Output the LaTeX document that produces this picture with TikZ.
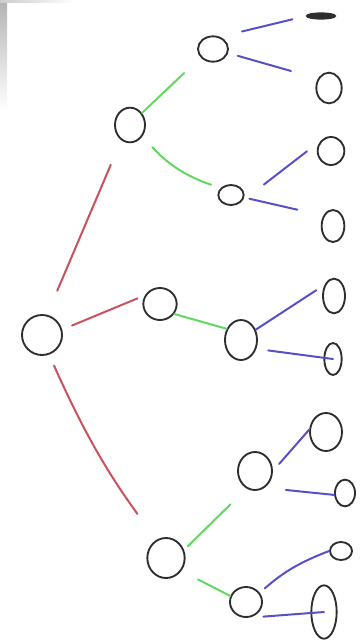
\documentclass[tikz,border=0pt]{standalone}
\usepackage{xcolor}
\usepackage{tikz}
\usetikzlibrary{shapes.geometric}
\definecolor{ink}{HTML}{2E2E2E}
\definecolor{redln}{HTML}{C9525E}
\definecolor{greenln}{HTML}{62D862}
\definecolor{blueln}{HTML}{5750C6}
\tikzset{
  knot/.style={ellipse,draw=ink,line width=1.4pt,inner sep=0pt},
  stroke/.style={knot,fill=ink},
  redge/.style={draw=redln,line width=1.5pt,line cap=round},
  gedge/.style={draw=greenln,line width=1.5pt,line cap=round},
  bedge/.style={draw=blueln,line width=1.5pt,line cap=round},
}

\begin{document}
\begin{tikzpicture}[x=0.75pt,y=-0.75pt]
\useasboundingbox (0,0) rectangle (362,640);
% page edge shadow
\shade[top color=black!30,bottom color=white] (0,0) rectangle (7,110);
\shade[left color=black!20,right color=white] (0,0) rectangle (75,2);
% root and first level
\node[knot,minimum width=30pt,minimum height=30pt] (root) at (42,335) {};
\node[knot,minimum width=22.5pt,minimum height=26pt] (B1) at (130,125) {};
\node[knot,minimum width=25pt,minimum height=24pt] (B2) at (160,304) {};
\node[knot,minimum width=28pt,minimum height=30pt] (B3) at (166,558) {};
% second level
\node[knot,minimum width=22.5pt,minimum height=19pt] (A1) at (213,49) {};
\node[knot,minimum width=19pt,minimum height=15pt] (A2) at (231,195) {};
\node[knot,minimum width=24pt,minimum height=30pt] (A3) at (241,340) {};
\node[knot,minimum width=25.5pt,minimum height=28.5pt] (A4) at (255,471) {};
\node[knot,minimum width=24pt,minimum height=22.5pt] (A5) at (246,602) {};
% leaves
\node[stroke,minimum width=21pt,minimum height=4pt] (L1) at (321,16) {};
\node[knot,minimum width=19pt,minimum height=23pt] (L2) at (329,88) {};
\node[knot,minimum width=20pt,minimum height=21pt] (L3) at (331,151) {};
\node[knot,minimum width=17pt,minimum height=24pt] (L4) at (333,226) {};
\node[knot,minimum width=16.5pt,minimum height=26pt] (L5) at (334,296) {};
\node[knot,minimum width=13pt,minimum height=24pt] (L6) at (333,359) {};
\node[knot,minimum width=24pt,minimum height=28.5pt] (L7) at (326,432) {};
\node[knot,minimum width=15pt,minimum height=20pt] (L8) at (345,493) {};
\node[knot,minimum width=16.5pt,minimum height=13.5pt] (L9) at (341,551) {};
\node[knot,minimum width=19pt,minimum height=40pt] (L10) at (324,612) {};
% red: root to first level
\draw[redge,shorten <=19.5pt,shorten >=20pt] (root.76) -- (B1.240);
\draw[redge,shorten <=8pt,shorten >=6pt] (root.15) -- (B2.150);
\draw[redge,shorten <=9pt,shorten >=24pt] (root.290) to[bend right=6] (B3.118);
% green: first to second level
\draw[gedge,shorten >=17pt] (B1.45) -- (A1.214);
\draw[gedge,shorten <=11pt,shorten >=7.5pt] (B1.-41) to[bend right=15] (A2.146);
\draw[gedge] (B2.-35) -- (A3.142);
\draw[gedge,shorten <=4pt,shorten >=17pt] (B3.24) -- (A4.244);
\draw[gedge,shorten <=14pt] (B3.-40) -- (A5.159);
% blue: second level to leaves
\draw[bedge,shorten <=17pt,shorten >=10.5pt] (A1.60) -- (L1.180);
\draw[bedge,shorten <=7.5pt,shorten >=21pt] (A1.-15) -- (L2.140);
\draw[bedge,shorten <=24pt,shorten >=13pt] (A2.-50) -- (L3.135);
\draw[bedge,shorten <=4pt,shorten >=20pt] (A2.-11) -- (L4.133);
\draw[bedge,shorten >=7.5pt] (A3.35) -- (L5.130);
\draw[bedge,shorten <=9pt] (A3.-30) -- (L6.center);
\draw[bedge,shorten <=7pt] (A4.0) -- (L7.172);
\draw[bedge,shorten <=16pt] (A4.-60) -- (L8.190);
\draw[bedge,shorten <=5pt] (A5.34) to[bend left=10] (L9.180);
\draw[bedge,shorten <=11pt] (A5.-80) -- (L10.center);
\end{tikzpicture}
\end{document}
